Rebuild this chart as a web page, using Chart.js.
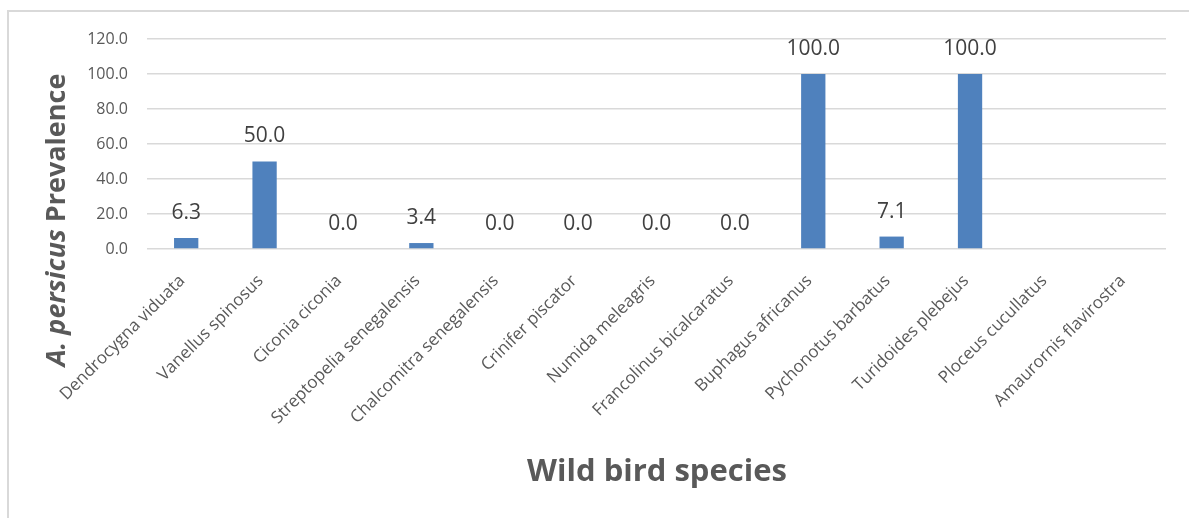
<!DOCTYPE html>
<html>
<head>
<meta charset="utf-8">
<script src="https://cdn.jsdelivr.net/npm/chart.js@4.4.1/dist/chart.umd.min.js"></script>
<style>
html,body{margin:0;padding:0;background:#fff;}
#wrap{position:relative;width:1189px;height:518px;overflow:hidden;}
#frame{position:absolute;left:7px;top:10px;width:1400px;height:700px;border-left:2px solid #d9d9d9;border-top:2px solid #d9d9d9;}
#chart{position:absolute;left:0;top:0;}
</style>
</head>
<body>
<div id="wrap">
<div id="frame"></div>
<canvas id="chart" width="1189" height="518"></canvas>
</div>
<script>
// bird species on the x axis
var species = ['Dendrocygna viduata','Vanellus spinosus','Ciconia ciconia','Streptopelia senegalensis',
'Chalcomitra senegalensis','Crinifer piscator','Numida meleagris','Francolinus bicalcaratus',
'Buphagus africanus','Pychonotus barbatus','Turidoides plebejus','Ploceus cucullatus','Amaurornis flavirostra'];

// prevalence (%), last two have no value
var prevalence = [6.3, 50.0, 0.0, 3.4, 0.0, 0.0, 0.0, 0.0, 100.0, 7.1, 100.0, null, null];

var yTicks = [0, 20, 40, 60, 80, 100, 120];

const FONT = "'Open Sans', sans-serif";

// value labels above bars
const barLabels = {
id:'barLabels',
afterDatasetsDraw(chart){
const ctx = chart.ctx;
const meta = chart.getDatasetMeta(0);
ctx.save();
ctx.font = '21px ' + FONT;
ctx.fillStyle = '#404040';
ctx.textAlign = 'center';
ctx.textBaseline = 'middle';
meta.data.forEach((bar,i)=>{
const v = prevalence[i];
if(v === null) return;
ctx.fillText(v.toFixed(1), bar.x, bar.y - 25);
});
ctx.restore();
}
};

// axis titles (y title has italic part)
const axisTitles = {
id:'axisTitles',
afterDraw(chart){
const ctx = chart.ctx;
ctx.save();
ctx.fillStyle = '#595959';
// x title
ctx.font = 'bold 31px ' + FONT;
ctx.textAlign = 'center';
ctx.textBaseline = 'alphabetic';
ctx.fillText('Wild bird species', 657, 481);
// y title
ctx.translate(65, 220);
ctx.rotate(-Math.PI/2);
const p1 = 'A. persicus ';
const p2 = 'Prevalence';
ctx.font = 'italic bold 27px ' + FONT;
const w1 = ctx.measureText(p1).width;
ctx.font = 'bold 27px ' + FONT;
const w2 = ctx.measureText(p2).width;
let x0 = -(w1 + w2)/2;
ctx.textAlign = 'left';
ctx.font = 'italic bold 27px ' + FONT;
ctx.fillText(p1, x0, 0);
ctx.font = 'bold 27px ' + FONT;
ctx.fillText(p2, x0 + w1, 0);
ctx.restore();
}
};

new Chart(document.getElementById('chart').getContext('2d'), {
type:'bar',
data:{
labels:species,
datasets:[{
label:'Prevalence',
data:prevalence,
backgroundColor:'#4f81bd',
barPercentage:0.31,
categoryPercentage:1.0
}]
},
options:{
responsive:false,
animation:false,
layout:{padding:{left:0,top:39,right:23,bottom:0}},
plugins:{legend:{display:false},tooltip:{enabled:false}},
scales:{
x:{
grid:{display:false,drawTicks:false},
border:{display:false},
ticks:{
color:'#595959',
font:{family:FONT,size:17},
minRotation:45,
maxRotation:45,
autoSkip:false,
labelOffset:-4,
padding:22
},
afterFit(scale){ scale.height = 269; }
},
y:{
min:0,
max:120,
afterBuildTicks(scale){ scale.ticks = yTicks.map(v=>({value:v})); },
grid:{color:'#d9d9d9',lineWidth:1.5,drawTicks:false},
border:{display:false},
ticks:{
color:'#595959',
font:{family:FONT,size:16},
padding:19,
callback:(v)=>v.toFixed(1)
},
afterFit(scale){ scale.width = 147; }
}
}
},
plugins:[barLabels, axisTitles]
});
</script>
</body>
</html>
